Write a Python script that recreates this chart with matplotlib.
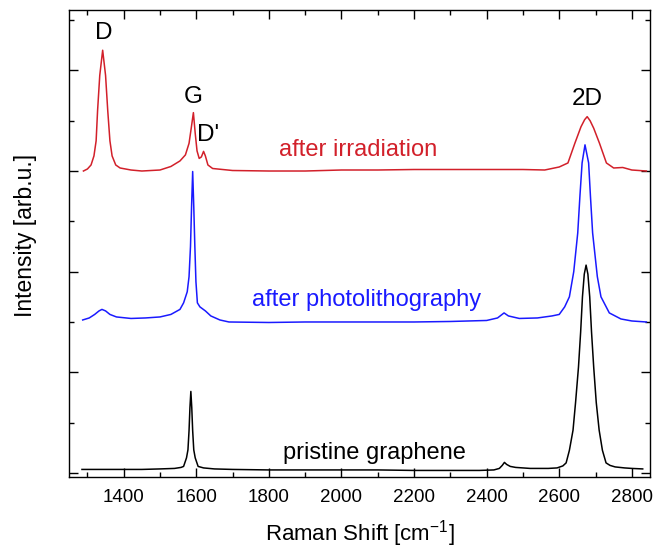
import matplotlib
matplotlib.use("Agg")
import matplotlib.pyplot as plt
from matplotlib.ticker import MultipleLocator

plt.rcParams['font.family'] = ['Liberation Sans', 'DejaVu Sans']
plt.rcParams['mathtext.default'] = 'regular'

# ---- data ----
pristine_x = [1285, 1350, 1400, 1450, 1500, 1540, 1558, 1565, 1573, 1577, 1580, 1582.5, 1585,
              1587.5, 1590, 1593, 1597, 1605, 1620, 1650, 1700, 1800, 1900, 2000, 2100, 2200,
              2300, 2380, 2420, 2435, 2443, 2449, 2455, 2465, 2480, 2520, 2570, 2594, 2610,
              2619, 2628, 2638, 2645, 2653, 2659, 2664, 2669, 2674, 2679, 2684, 2689, 2695,
              2702, 2710, 2719, 2729, 2740, 2754, 2780, 2800, 2830]
pristine_y = [0.07, 0.07, 0.07, 0.07, 0.08, 0.09, 0.11, 0.13, 0.30, 0.46, 0.84, 1.30, 1.62,
              1.30, 0.84, 0.46, 0.30, 0.13, 0.10, 0.08, 0.07, 0.06, 0.06, 0.06, 0.06, 0.05,
              0.05, 0.05, 0.06, 0.09, 0.15, 0.21, 0.17, 0.13, 0.11, 0.09, 0.09, 0.10, 0.14,
              0.20, 0.45, 0.85, 1.40, 2.10, 2.80, 3.50, 3.95, 4.13, 3.95, 3.50, 2.80, 2.10,
              1.40, 0.85, 0.45, 0.20, 0.15, 0.12, 0.10, 0.09, 0.08]

photo_x = [1287, 1305, 1320, 1332, 1340, 1350, 1362, 1380, 1420, 1460, 1500, 1530, 1555,
           1565, 1575, 1580, 1584, 1587, 1590, 1593, 1596, 1599, 1603, 1610, 1625, 1640,
           1665, 1690, 1800, 1900, 2000, 2100, 2200, 2300, 2400, 2430, 2448, 2460, 2490,
           2540, 2580, 2600, 2615, 2628, 2640, 2651, 2657, 2663, 2671, 2681, 2686, 2692,
           2705, 2715, 2738, 2770, 2800, 2840]
photo_y = [3.04, 3.08, 3.15, 3.22, 3.25, 3.22, 3.15, 3.10, 3.07, 3.08, 3.10, 3.15, 3.25,
           3.38, 3.60, 3.90, 4.50, 5.30, 5.99, 5.30, 4.50, 3.80, 3.38, 3.30, 3.22, 3.12,
           3.04, 3.00, 2.99, 3.00, 3.00, 3.00, 3.00, 3.01, 3.03, 3.08, 3.18, 3.12, 3.07,
           3.08, 3.12, 3.15, 3.30, 3.50, 4.00, 4.77, 5.50, 6.16, 6.52, 6.16, 5.50, 4.77,
           3.90, 3.50, 3.18, 3.06, 3.02, 3.00]

irr_x = [1289, 1300, 1310, 1318, 1324, 1328, 1334, 1342, 1350, 1356, 1362, 1368, 1378,
         1390, 1420, 1450, 1500, 1530, 1555, 1570, 1580, 1586, 1592, 1597, 1602, 1608,
         1614, 1620, 1625, 1632, 1645, 1700, 1800, 1900, 2000, 2100, 2200, 2300, 2400,
         2500, 2560, 2600, 2624, 2643, 2660, 2670, 2677, 2685, 2695, 2711, 2730, 2750,
         2775, 2800, 2840]
irr_y = [6.00, 6.04, 6.12, 6.30, 6.60, 7.20, 7.90, 8.40, 7.90, 7.20, 6.60, 6.30, 6.12,
         6.06, 6.02, 6.00, 6.02, 6.09, 6.20, 6.32, 6.55, 6.85, 7.16, 6.75, 6.40, 6.25,
         6.28, 6.39, 6.30, 6.12, 6.05, 6.01, 6.00, 6.00, 6.02, 6.02, 6.03, 6.03, 6.03,
         6.03, 6.02, 6.08, 6.16, 6.55, 6.88, 7.02, 7.08, 7.00, 6.85, 6.55, 6.16, 6.06,
         6.07, 6.02, 6.00]

curve_names = ["pristine graphene", "after photolithography", "after irradiation"]
peak_labels = ["D", "G", "D'", "2D"]
x_ticks = [1400, 1600, 1800, 2000, 2200, 2400, 2600, 2800]

# ---- figure ----
fig = plt.figure(figsize=(6.68, 5.48), dpi=100)
ax = fig.add_axes([0.1037, 0.1296, 0.8693, 0.8522])

black = '#000000'
blue = '#1a1aff'
red = '#d2202a'

ax.plot(pristine_x, pristine_y, color=black, lw=1.1)
ax.plot(photo_x, photo_y, color=blue, lw=1.1)
ax.plot(irr_x, irr_y, color=red, lw=1.1)

ax.set_xlim(1250, 2850)
ax.set_ylim(-0.08, 9.2)

ax.set_xticks(x_ticks)
ax.xaxis.set_minor_locator(MultipleLocator(100))
ax.yaxis.set_major_locator(MultipleLocator(2))
ax.yaxis.set_minor_locator(MultipleLocator(1))
ax.tick_params(axis='both', which='both', direction='in', top=True, right=True, width=1.0)
ax.tick_params(axis='both', which='major', length=6.5)
ax.tick_params(axis='both', which='minor', length=3.5)
ax.tick_params(axis='x', which='major', labelsize=13.5, pad=9)
ax.tick_params(axis='y', labelleft=False)
for s in ax.spines.values():
    s.set_linewidth(1.0)

ax.set_xlabel('Raman Shift [cm$^{-1}$]', fontsize=16, labelpad=8.5)
fig.text(26 / 668, 1 - 235 / 548, 'Intensity [arb.u.]', fontsize=16.5,
         rotation=90, ha='center', va='center')

# curve labels
ax.text(2045, 6.29, curve_names[2], color=red, fontsize=17, ha='center', va='baseline')
ax.text(2069, 3.31, curve_names[1], color=blue, fontsize=17, ha='center', va='baseline')
ax.text(2091, 0.27, curve_names[0], color=black, fontsize=17, ha='center', va='baseline')

# peak labels
ax.text(1346, 8.74, peak_labels[0], fontsize=17.5, ha='center', va='center')
ax.text(1592, 7.48, peak_labels[1], fontsize=17.5, ha='center', va='center')
ax.text(1633, 6.72, peak_labels[2], fontsize=17.5, ha='center', va='center')
ax.text(2676, 7.43, peak_labels[3], fontsize=17.5, ha='center', va='center')

fig.savefig('out.png', dpi=100)
